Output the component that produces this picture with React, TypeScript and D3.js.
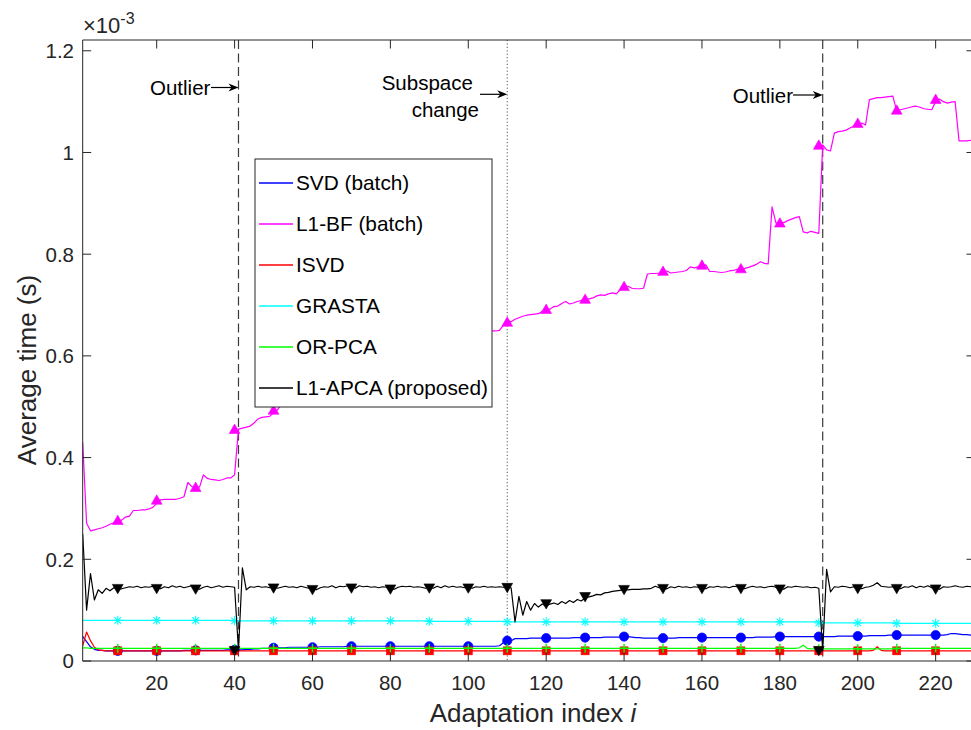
import React from 'react';
import * as d3 from 'd3';

// ---------------- data (values in units of 1e-3 s) ----------------
const adaptIdx = d3.range(1, 231);
const xTicks = [20, 40, 60, 80, 100, 120, 140, 160, 180, 200, 220];
const yTicks = [0, 0.2, 0.4, 0.6, 0.8, 1, 1.2];
const yTickLabels = ['0', '0.2', '0.4', '0.6', '0.8', '1', '1.2'];
const markerIdx = [10, 20, 30, 40, 50, 60, 70, 80, 90, 100, 110, 120, 130, 140, 150, 160, 170, 180, 190, 200, 210, 220];
const outlierIdx = [41, 191];
const subspaceIdx = 110;

const svdBatch = [
  0.048, 0.038, 0.028, 0.023, 0.021, 0.021, 0.020, 0.020, 0.020, 0.020,
  0.020, 0.020, 0.020, 0.020, 0.020, 0.020, 0.020, 0.020, 0.020, 0.020,
  0.020, 0.020, 0.020, 0.020, 0.020, 0.020, 0.021, 0.021, 0.021, 0.021,
  0.021, 0.021, 0.021, 0.021, 0.021, 0.021, 0.021, 0.022, 0.022, 0.022,
  0.022, 0.022, 0.023, 0.023, 0.024, 0.024, 0.025, 0.025, 0.025, 0.026,
  0.026, 0.026, 0.026, 0.027, 0.027, 0.027, 0.027, 0.027, 0.027, 0.027,
  0.027, 0.028, 0.028, 0.028, 0.028, 0.028, 0.028, 0.028, 0.029, 0.029,
  0.029, 0.029, 0.029, 0.029, 0.029, 0.029, 0.029, 0.029, 0.029, 0.029,
  0.029, 0.029, 0.029, 0.029, 0.029, 0.029, 0.029, 0.029, 0.029, 0.029,
  0.029, 0.029, 0.029, 0.029, 0.029, 0.029, 0.029, 0.029, 0.029, 0.029,
  0.029, 0.029, 0.029, 0.029, 0.029, 0.029, 0.029, 0.030, 0.036, 0.040,
  0.040, 0.044, 0.044, 0.044, 0.044, 0.045, 0.045, 0.045, 0.045, 0.045,
  0.045, 0.045, 0.045, 0.045, 0.045, 0.045, 0.046, 0.046, 0.046, 0.046,
  0.046, 0.046, 0.046, 0.046, 0.047, 0.047, 0.047, 0.047, 0.047, 0.048,
  0.048, 0.047, 0.046, 0.046, 0.045, 0.045, 0.045, 0.045, 0.045, 0.045,
  0.045, 0.045, 0.045, 0.046, 0.046, 0.046, 0.046, 0.046, 0.046, 0.046,
  0.046, 0.046, 0.046, 0.046, 0.046, 0.046, 0.046, 0.046, 0.046, 0.046,
  0.046, 0.046, 0.046, 0.047, 0.047, 0.047, 0.047, 0.047, 0.048, 0.048,
  0.048, 0.048, 0.048, 0.048, 0.048, 0.048, 0.048, 0.048, 0.048, 0.048,
  0.048, 0.048, 0.048, 0.048, 0.049, 0.049, 0.049, 0.049, 0.049, 0.049,
  0.049, 0.049, 0.050, 0.050, 0.050, 0.050, 0.050, 0.051, 0.051, 0.051,
  0.051, 0.051, 0.051, 0.051, 0.051, 0.051, 0.051, 0.051, 0.051, 0.051,
  0.051, 0.051, 0.052, 0.054, 0.054, 0.053, 0.052, 0.052, 0.051, 0.051,
];

const l1bfBatch = [
  0.430, 0.271, 0.256, 0.258, 0.260, 0.262, 0.265, 0.269, 0.272, 0.275,
  0.277, 0.283, 0.285, 0.296, 0.296, 0.297, 0.297, 0.299, 0.302, 0.310,
  0.317, 0.318, 0.318, 0.318, 0.318, 0.320, 0.323, 0.351, 0.343, 0.342,
  0.342, 0.366, 0.359, 0.357, 0.356, 0.355, 0.357, 0.360, 0.360, 0.366,
  0.456, 0.458, 0.460, 0.462, 0.468, 0.476, 0.479, 0.480, 0.481, 0.488,
  0.494, 0.505, 0.510, 0.515, 0.520, 0.522, 0.525, 0.530, 0.532, 0.535,
  0.540, 0.545, 0.548, 0.552, 0.555, 0.560, 0.562, 0.566, 0.570, 0.572,
  0.576, 0.580, 0.585, 0.588, 0.590, 0.594, 0.598, 0.600, 0.603, 0.606,
  0.610, 0.612, 0.615, 0.617, 0.620, 0.622, 0.625, 0.627, 0.628, 0.630,
  0.632, 0.634, 0.636, 0.637, 0.638, 0.640, 0.641, 0.642, 0.643, 0.644,
  0.645, 0.646, 0.647, 0.648, 0.648, 0.649, 0.649, 0.650, 0.660, 0.670,
  0.667, 0.672, 0.675, 0.678, 0.680, 0.681, 0.682, 0.683, 0.688, 0.690,
  0.692, 0.697, 0.698, 0.703, 0.707, 0.702, 0.704, 0.707, 0.709, 0.710,
  0.712, 0.714, 0.718, 0.720, 0.719, 0.722, 0.724, 0.722, 0.730, 0.735,
  0.737, 0.733, 0.732, 0.732, 0.733, 0.761, 0.762, 0.762, 0.763, 0.765,
  0.767, 0.763, 0.764, 0.765, 0.766, 0.768, 0.775, 0.773, 0.775, 0.777,
  0.779, 0.766, 0.766, 0.765, 0.764, 0.765, 0.767, 0.768, 0.770, 0.771,
  0.772, 0.774, 0.777, 0.780, 0.785, 0.782, 0.781, 0.893, 0.861, 0.862,
  0.862, 0.866, 0.869, 0.872, 0.874, 0.844, 0.842, 0.845, 0.843, 0.841,
  1.015, 1.005, 1.003, 1.038, 1.041, 1.042, 1.044, 1.048, 1.052, 1.054,
  1.058, 1.054, 1.104, 1.106, 1.108, 1.108, 1.109, 1.110, 1.111, 1.082,
  1.084, 1.086, 1.088, 1.090, 1.091, 1.089, 1.086, 1.085, 1.084, 1.100,
  1.105, 1.100, 1.097, 1.099, 1.100, 1.023, 1.023, 1.023, 1.024, 1.023,
];

const isvd = [
  0.030, 0.057, 0.040, 0.027, 0.022, 0.021, 0.020, 0.020, 0.020, 0.020,
  0.020, 0.020, 0.020, 0.020, 0.020, 0.020, 0.020, 0.020, 0.020, 0.020,
  0.020, 0.020, 0.020, 0.020, 0.020, 0.020, 0.020, 0.020, 0.020, 0.020,
  0.020, 0.020, 0.020, 0.020, 0.020, 0.020, 0.020, 0.020, 0.020, 0.020,
  0.020, 0.020, 0.020, 0.020, 0.020, 0.020, 0.020, 0.020, 0.020, 0.020,
  0.020, 0.020, 0.020, 0.020, 0.020, 0.020, 0.020, 0.020, 0.020, 0.020,
  0.020, 0.020, 0.020, 0.020, 0.020, 0.020, 0.020, 0.020, 0.020, 0.020,
  0.020, 0.020, 0.020, 0.020, 0.020, 0.020, 0.020, 0.020, 0.020, 0.020,
  0.020, 0.020, 0.020, 0.020, 0.020, 0.020, 0.020, 0.020, 0.020, 0.020,
  0.020, 0.020, 0.020, 0.020, 0.020, 0.020, 0.020, 0.020, 0.020, 0.020,
  0.020, 0.020, 0.020, 0.020, 0.020, 0.020, 0.020, 0.020, 0.020, 0.020,
  0.020, 0.020, 0.020, 0.020, 0.020, 0.020, 0.020, 0.020, 0.020, 0.020,
  0.020, 0.020, 0.020, 0.020, 0.020, 0.020, 0.020, 0.020, 0.020, 0.020,
  0.020, 0.020, 0.020, 0.020, 0.020, 0.020, 0.020, 0.020, 0.020, 0.020,
  0.020, 0.020, 0.020, 0.020, 0.020, 0.020, 0.020, 0.020, 0.020, 0.020,
  0.020, 0.020, 0.020, 0.020, 0.020, 0.020, 0.020, 0.020, 0.020, 0.020,
  0.020, 0.020, 0.020, 0.020, 0.020, 0.020, 0.020, 0.020, 0.020, 0.020,
  0.020, 0.020, 0.020, 0.020, 0.020, 0.020, 0.020, 0.020, 0.020, 0.020,
  0.020, 0.020, 0.020, 0.020, 0.020, 0.020, 0.020, 0.020, 0.020, 0.020,
  0.020, 0.020, 0.020, 0.020, 0.020, 0.020, 0.020, 0.020, 0.020, 0.020,
  0.020, 0.020, 0.020, 0.021, 0.028, 0.021, 0.020, 0.020, 0.020, 0.020,
  0.020, 0.020, 0.020, 0.020, 0.020, 0.020, 0.020, 0.020, 0.020, 0.020,
  0.020, 0.020, 0.020, 0.020, 0.020, 0.020, 0.020, 0.020, 0.020, 0.020,
];

const grasta = [
  0.080, 0.080, 0.080, 0.080, 0.080, 0.080, 0.080, 0.080, 0.080, 0.080,
  0.080, 0.080, 0.080, 0.080, 0.080, 0.080, 0.080, 0.080, 0.080, 0.080,
  0.080, 0.080, 0.080, 0.080, 0.080, 0.080, 0.080, 0.080, 0.080, 0.080,
  0.080, 0.080, 0.080, 0.080, 0.080, 0.080, 0.080, 0.080, 0.080, 0.080,
  0.079, 0.079, 0.079, 0.079, 0.079, 0.079, 0.079, 0.079, 0.079, 0.079,
  0.079, 0.079, 0.079, 0.079, 0.079, 0.079, 0.079, 0.079, 0.079, 0.079,
  0.079, 0.079, 0.079, 0.079, 0.079, 0.079, 0.079, 0.079, 0.079, 0.079,
  0.079, 0.079, 0.079, 0.079, 0.079, 0.079, 0.079, 0.079, 0.079, 0.079,
  0.079, 0.079, 0.079, 0.079, 0.079, 0.079, 0.079, 0.079, 0.079, 0.079,
  0.078, 0.078, 0.078, 0.078, 0.078, 0.078, 0.078, 0.078, 0.078, 0.078,
  0.078, 0.078, 0.078, 0.078, 0.078, 0.078, 0.078, 0.078, 0.078, 0.078,
  0.077, 0.077, 0.077, 0.077, 0.077, 0.077, 0.077, 0.077, 0.077, 0.077,
  0.077, 0.077, 0.077, 0.077, 0.077, 0.077, 0.077, 0.077, 0.077, 0.077,
  0.077, 0.077, 0.077, 0.077, 0.077, 0.077, 0.077, 0.077, 0.077, 0.077,
  0.077, 0.077, 0.077, 0.077, 0.077, 0.077, 0.077, 0.077, 0.077, 0.077,
  0.077, 0.077, 0.077, 0.077, 0.077, 0.077, 0.077, 0.077, 0.077, 0.077,
  0.077, 0.077, 0.077, 0.077, 0.077, 0.077, 0.077, 0.077, 0.077, 0.077,
  0.077, 0.077, 0.077, 0.077, 0.077, 0.077, 0.077, 0.077, 0.077, 0.077,
  0.077, 0.077, 0.077, 0.077, 0.077, 0.077, 0.077, 0.077, 0.077, 0.077,
  0.075, 0.075, 0.075, 0.075, 0.075, 0.075, 0.075, 0.075, 0.075, 0.075,
  0.075, 0.075, 0.075, 0.075, 0.075, 0.075, 0.075, 0.075, 0.075, 0.075,
  0.074, 0.074, 0.074, 0.074, 0.074, 0.074, 0.074, 0.074, 0.074, 0.074,
  0.074, 0.074, 0.074, 0.074, 0.074, 0.074, 0.074, 0.074, 0.074, 0.074,
];

const orPca = [
  0.026, 0.026, 0.025, 0.025, 0.025, 0.025, 0.025, 0.025, 0.025, 0.025,
  0.025, 0.025, 0.025, 0.025, 0.025, 0.025, 0.025, 0.025, 0.025, 0.025,
  0.025, 0.025, 0.025, 0.025, 0.025, 0.025, 0.025, 0.025, 0.025, 0.025,
  0.025, 0.025, 0.025, 0.025, 0.025, 0.025, 0.025, 0.025, 0.025, 0.025,
  0.025, 0.025, 0.025, 0.025, 0.025, 0.025, 0.025, 0.025, 0.025, 0.025,
  0.025, 0.025, 0.025, 0.025, 0.025, 0.025, 0.025, 0.025, 0.025, 0.025,
  0.025, 0.025, 0.025, 0.025, 0.025, 0.025, 0.025, 0.025, 0.025, 0.025,
  0.025, 0.025, 0.025, 0.025, 0.025, 0.025, 0.025, 0.025, 0.025, 0.025,
  0.025, 0.025, 0.025, 0.025, 0.025, 0.025, 0.025, 0.025, 0.025, 0.025,
  0.025, 0.025, 0.025, 0.025, 0.025, 0.025, 0.025, 0.025, 0.025, 0.025,
  0.025, 0.025, 0.025, 0.025, 0.025, 0.025, 0.025, 0.025, 0.025, 0.025,
  0.025, 0.025, 0.025, 0.025, 0.025, 0.025, 0.025, 0.025, 0.025, 0.025,
  0.025, 0.025, 0.025, 0.025, 0.025, 0.025, 0.025, 0.025, 0.025, 0.025,
  0.025, 0.025, 0.025, 0.025, 0.025, 0.025, 0.025, 0.025, 0.025, 0.025,
  0.025, 0.025, 0.025, 0.025, 0.025, 0.025, 0.025, 0.025, 0.025, 0.025,
  0.025, 0.025, 0.025, 0.025, 0.025, 0.025, 0.025, 0.025, 0.025, 0.025,
  0.025, 0.025, 0.025, 0.025, 0.025, 0.025, 0.025, 0.025, 0.025, 0.025,
  0.025, 0.025, 0.025, 0.025, 0.025, 0.025, 0.025, 0.025, 0.025, 0.025,
  0.025, 0.025, 0.025, 0.025, 0.026, 0.031, 0.025, 0.024, 0.024, 0.024,
  0.024, 0.024, 0.024, 0.024, 0.024, 0.024, 0.024, 0.024, 0.024, 0.024,
  0.024, 0.024, 0.024, 0.024, 0.024, 0.024, 0.024, 0.024, 0.024, 0.024,
  0.025, 0.025, 0.025, 0.025, 0.025, 0.025, 0.025, 0.025, 0.025, 0.025,
  0.025, 0.025, 0.025, 0.025, 0.025, 0.025, 0.025, 0.025, 0.025, 0.025,
];

const l1apca = [
  0.250, 0.100, 0.172, 0.120, 0.140, 0.133, 0.143, 0.138, 0.144, 0.143,
  0.142, 0.144, 0.146, 0.145, 0.147, 0.144, 0.146, 0.145, 0.147, 0.146,
  0.142, 0.146, 0.144, 0.148, 0.145, 0.147, 0.144, 0.146, 0.148, 0.145,
  0.141, 0.145, 0.147, 0.144, 0.146, 0.148, 0.145, 0.147, 0.146, 0.145,
  0.020, 0.183, 0.140, 0.146, 0.145, 0.147, 0.145, 0.146, 0.144, 0.146,
  0.143, 0.145, 0.147, 0.145, 0.146, 0.144, 0.147, 0.145, 0.143, 0.145,
  0.140, 0.144, 0.146, 0.145, 0.148, 0.144, 0.147, 0.146, 0.148, 0.147,
  0.143, 0.148, 0.146, 0.147, 0.145, 0.146, 0.144, 0.146, 0.145, 0.143,
  0.141, 0.145, 0.147, 0.146, 0.147, 0.145, 0.146, 0.145, 0.143, 0.146,
  0.143, 0.147, 0.144, 0.148, 0.145, 0.147, 0.145, 0.146, 0.144, 0.146,
  0.143, 0.146, 0.145, 0.147, 0.145, 0.146, 0.145, 0.146, 0.145, 0.145,
  0.144, 0.077, 0.127, 0.090, 0.117, 0.100, 0.113, 0.106, 0.112, 0.108,
  0.112, 0.114, 0.111, 0.117, 0.113, 0.119, 0.115, 0.121, 0.118, 0.124,
  0.126, 0.128, 0.131, 0.130, 0.134, 0.135, 0.137, 0.138, 0.139, 0.140,
  0.140, 0.141, 0.141, 0.141, 0.142, 0.142, 0.143, 0.147, 0.144, 0.143,
  0.142, 0.146, 0.144, 0.147, 0.145, 0.146, 0.144, 0.146, 0.145, 0.144,
  0.142, 0.146, 0.145, 0.147, 0.145, 0.146, 0.144, 0.147, 0.146, 0.145,
  0.142, 0.145, 0.147, 0.145, 0.146, 0.144, 0.146, 0.147, 0.145, 0.144,
  0.141, 0.146, 0.145, 0.147, 0.146, 0.145, 0.146, 0.144, 0.145, 0.143,
  0.020, 0.180, 0.136, 0.146, 0.145, 0.147, 0.146, 0.144, 0.146, 0.145,
  0.142, 0.145, 0.146, 0.149, 0.154, 0.147, 0.146, 0.145, 0.146, 0.144,
  0.142, 0.146, 0.145, 0.148, 0.144, 0.147, 0.145, 0.148, 0.144, 0.145,
  0.141, 0.146, 0.145, 0.146, 0.148, 0.146, 0.145, 0.147, 0.146, 0.145,
];

const seriesNames = ['SVD (batch)', 'L1-BF (batch)', 'ISVD', 'GRASTA', 'OR-PCA', 'L1-APCA (proposed)'];
const seriesValues = [svdBatch, l1bfBatch, isvd, grasta, orPca, l1apca];
const seriesColors = ['#0000ff', '#ff00ff', '#ff0000', '#00ffff', '#00ff00', '#000000'];
const seriesMarkers = ['circle', 'triUp', 'square', 'star', 'plus', 'triDown'];

// ---------------- layout ----------------
const W = 971;
const H = 730;
const PL = 82.7;
const PR = 975;
const PT = 40;
const PB = 661;
const FONT = "'Liberation Sans', Arial, Helvetica, sans-serif";
const AX = '#262626';

function Marker({ type, color, cx, cy }: { type: string; color: string; cx: number; cy: number }) {
  const t = `translate(${cx},${cy})`;
  switch (type) {
    case 'circle':
      return <circle cx={cx} cy={cy} r={4.6} fill={color} stroke={color} strokeWidth={0.8} />;
    case 'triUp':
      return <path transform={t} d="M0,-5 L5.4,4.4 L-5.4,4.4Z" fill={color} stroke={color} strokeWidth={0.6} />;
    case 'triDown':
      return <path transform={t} d="M0,5 L5.4,-4.4 L-5.4,-4.4Z" fill={color} stroke={color} strokeWidth={0.6} />;
    case 'square':
      return <rect x={cx - 4} y={cy - 4} width={8} height={8} fill={color} stroke={color} strokeWidth={0.6} />;
    case 'plus':
      return (
        <g transform={t} stroke={color} strokeWidth={1.4}>
          <line x1={-4.5} y1={0} x2={4.5} y2={0} />
          <line x1={0} y1={-4.5} x2={0} y2={4.5} />
        </g>
      );
    case 'star':
      return (
        <g transform={t} stroke={color} strokeWidth={1.1}>
          <line x1={-4.5} y1={0} x2={4.5} y2={0} />
          <line x1={0} y1={-4.5} x2={0} y2={4.5} />
          <line x1={-3.3} y1={-3.3} x2={3.3} y2={3.3} />
          <line x1={-3.3} y1={3.3} x2={3.3} y2={-3.3} />
        </g>
      );
    default:
      return null;
  }
}

function Arrow({ x1, x2, y }: { x1: number; x2: number; y: number }) {
  return (
    <g>
      <line x1={x1} y1={y} x2={x2 - 5} y2={y} stroke="#000" strokeWidth={1.2} />
      <path d={`M${x2},${y} L${x2 - 10},${y - 4} L${x2 - 7},${y} L${x2 - 10},${y + 4}Z`} fill="#000" />
    </g>
  );
}

export default function App() {
  const x = d3.scaleLinear().domain([1, 230]).range([PL, 974.6]);
  const y = d3.scaleLinear().domain([0, 1.2212]).range([PB, PT]);
  const lineGen = d3
    .line<number>()
    .x((_, i) => x(adaptIdx[i]))
    .y((d) => y(d));

  const legendX = 255;
  const legendY = 159;
  const legendW = 237;
  const legendH = 248;

  return (
    <svg
      width={W}
      height={H}
      style={{ position: 'absolute', left: 0, top: 0, background: '#fff' }}
      fontFamily={FONT}
    >
      <defs>
        <clipPath id="plotClip">
          <rect x={PL} y={PT} width={PR - PL} height={PB - PT} />
        </clipPath>
      </defs>
      <rect x={0} y={0} width={W} height={H} fill="#fff" />

      {/* annotation lines */}
      {outlierIdx.map((o) => (
        <line key={o} x1={x(o)} x2={x(o)} y1={PT} y2={PB} stroke="#3a3a3a" strokeWidth={1.2} strokeDasharray="9 4.5" />
      ))}
      <line x1={x(subspaceIdx)} x2={x(subspaceIdx)} y1={PT} y2={PB} stroke="#555" strokeWidth={1} strokeDasharray="1.2 2.2" />

      {/* series */}
      <g clipPath="url(#plotClip)">
        {seriesValues.map((vals, si) => (
          <g key={si}>
            <path d={lineGen(vals) || ''} fill="none" stroke={seriesColors[si]} strokeWidth={1.2} strokeLinejoin="round" />
            {markerIdx.map((m) => (
              <Marker key={m} type={seriesMarkers[si]} color={seriesColors[si]} cx={x(m)} cy={y(vals[m])} />
            ))}
          </g>
        ))}
      </g>

      {/* axes box */}
      <g stroke={AX} strokeWidth={1} fill="none">
        <line x1={PL} y1={PB} x2={PR} y2={PB} />
        <line x1={PL} y1={PT} x2={PR} y2={PT} />
        <line x1={PL} y1={PT} x2={PL} y2={PB} />
        <line x1={PR} y1={PT} x2={PR} y2={PB} />
        {xTicks.map((t) => (
          <g key={t}>
            <line x1={x(t)} x2={x(t)} y1={PB} y2={PB - 8.5} />
            <line x1={x(t)} x2={x(t)} y1={PT} y2={PT + 8.5} />
          </g>
        ))}
        {yTicks.map((t) => (
          <g key={t}>
            <line x1={PL} x2={PL + 8.5} y1={y(t)} y2={y(t)} />
            <line x1={PR} x2={PR - 8.5} y1={y(t)} y2={y(t)} />
          </g>
        ))}
      </g>

      {/* tick labels */}
      <g fill={AX} fontSize={20.5}>
        {xTicks.map((t) => (
          <text key={t} x={x(t)} y={690} textAnchor="middle">
            {t}
          </text>
        ))}
        {yTicks.map((t, i) => (
          <text key={t} x={74} y={y(t)} dy="0.36em" textAnchor="end">
            {yTickLabels[i]}
          </text>
        ))}
      </g>

      {/* exponent */}
      <text x={83} y={33} fontSize={22} fill={AX}>
        ×10
        <tspan dy={-9} fontSize={16}>
          -3
        </tspan>
      </text>

      {/* axis labels */}
      <text x={533} y={722} textAnchor="middle" fontSize={26} fill={AX}>
        Adaptation index <tspan fontStyle="italic">i</tspan>
      </text>
      <text transform={`translate(36,370) rotate(-90)`} textAnchor="middle" fontSize={26} fill={AX}>
        Average time (s)
      </text>

      {/* annotations */}
      <g fill="#000" fontSize={20.5}>
        <text x={150} y={95}>Outlier</text>
        <Arrow x1={211} x2={x(outlierIdx[0])} y={87.5} />
        <text x={732.7} y={102.7}>Outlier</text>
        <Arrow x1={793} x2={x(outlierIdx[1])} y={95} />
        <text x={381.7} y={90}>Subspace</text>
        <text x={411.7} y={116.7}>change</text>
        <Arrow x1={480} x2={x(subspaceIdx)} y={94.3} />
      </g>

      {/* legend */}
      <rect x={legendX} y={legendY} width={legendW} height={legendH} fill="#fff" stroke={AX} strokeWidth={1} />
      {seriesNames.map((n, i) => {
        const ly = 183 + i * 41;
        return (
          <g key={n}>
            <line x1={259} x2={293} y1={ly} y2={ly} stroke={seriesColors[i]} strokeWidth={1.3} />
            <text x={296} y={ly} dy="0.36em" fontSize={20.8} fill="#000">
              {n}
            </text>
          </g>
        );
      })}
    </svg>
  );
}
